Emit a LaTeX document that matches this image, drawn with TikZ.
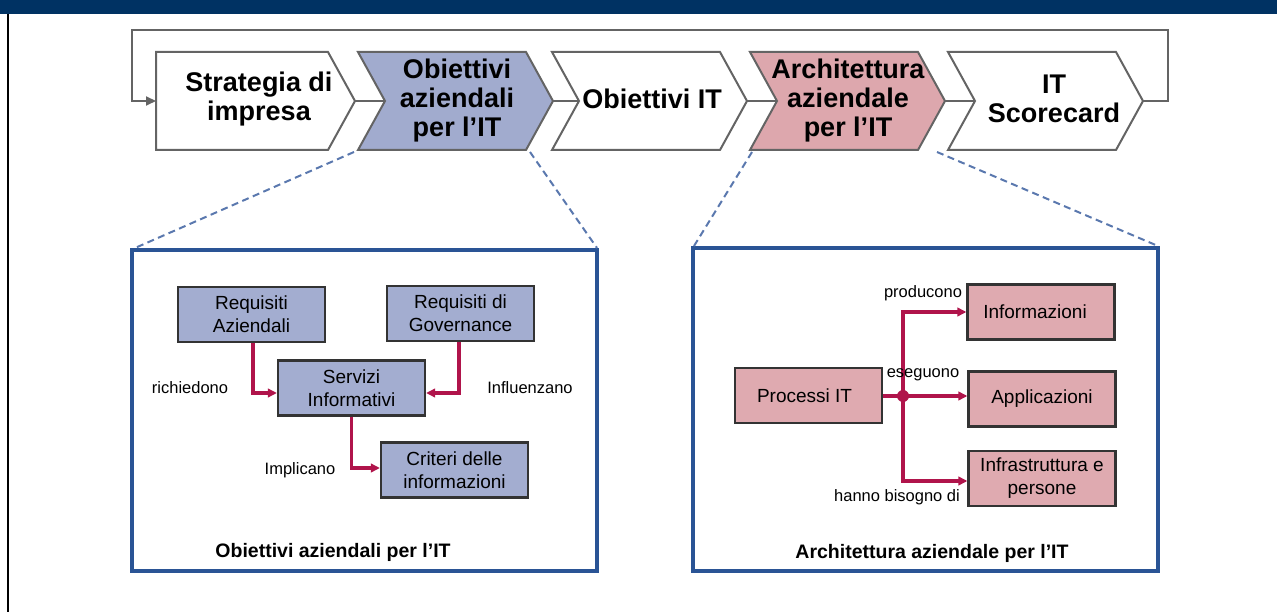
\documentclass[tikz,border=0pt]{standalone}
\usepackage{fontspec}
\setmainfont{Liberation Sans}
\usetikzlibrary{arrows.meta}
\definecolor{bandblue}{HTML}{003263}
\definecolor{chevblue}{HTML}{A1ABCE}
\definecolor{chevpink}{HTML}{DDA7AD}
\definecolor{boxblue}{HTML}{A3ADD0}
\definecolor{boxpink}{HTML}{DFAAB0}
\definecolor{crimson}{HTML}{B0144B}
\definecolor{frameblue}{HTML}{2A5495}
\definecolor{dashblue}{HTML}{5A78AE}
\definecolor{chevline}{HTML}{646464}
\definecolor{boxline}{HTML}{333333}
\begin{document}
\begin{tikzpicture}[x=1pt,y=-1pt,
  chevshape/.style={draw=chevline, line width=2pt, line join=miter},
  chevtext/.style={align=center, inner sep=0pt, font=\fontsize{27}{29}\selectfont\bfseries},
  linkline/.style={draw=chevline, line width=2pt},
  loopline/.style={draw=chevline, line width=2pt, -{Triangle[length=10pt,width=9pt]}},
  zoomline/.style={draw=dashblue, line width=2pt, dash pattern=on 7pt off 4.5pt},
  frame/.style={draw=frameblue, line width=3.2pt},
  innerbox/.style={draw=boxline, line width=2.2pt, minimum width=147pt, minimum height=55pt,
     align=center, inner sep=0pt, font=\fontsize{19}{23}\selectfont},
  bluebox/.style={innerbox, fill=boxblue},
  pinkbox/.style={innerbox, fill=boxpink},
  conn/.style={draw=crimson, line width=3.2pt, -{Triangle[length=9pt,width=8.5pt]}},
  plainconn/.style={draw=crimson, line width=3.2pt},
  lbl/.style={inner sep=0pt, font=\fontsize{16.5}{19}\selectfont},
  caption/.style={inner sep=0pt, font=\fontsize{19.5}{22}\selectfont\bfseries}
]
\useasboundingbox (0,0) rectangle (1277,612);
% top band and left rule
\fill[bandblue] (0,0) rectangle (1277,14);
\draw[black, line width=2.5pt] (8,14) -- (8,612);

% chevrons
\draw[chevshape, fill=white] (156,52) -- (328,52) -- (355,101) -- (328,150) -- (156,150) -- cycle;
\draw[chevshape, fill=chevblue] (358,52) -- (526,52) -- (553,101) -- (526,150) -- (358,150) -- (385,101) -- cycle;
\draw[chevshape, fill=white] (552,52) -- (720,52) -- (747,101) -- (720,150) -- (552,150) -- (579,101) -- cycle;
\draw[chevshape, fill=chevpink] (750,52) -- (918,52) -- (945,101) -- (918,150) -- (750,150) -- (777,101) -- cycle;
\draw[chevshape, fill=white] (948,52) -- (1116,52) -- (1143,101) -- (1116,150) -- (948,150) -- (975,101) -- cycle;

\coordinate (in1) at (156,101);
\coordinate (t1) at (355,101); \coordinate (n2) at (385,101);
\coordinate (t2) at (553,101); \coordinate (n3) at (579,101);
\coordinate (t3) at (747,101); \coordinate (n4) at (777,101);
\coordinate (t4) at (945,101); \coordinate (n5) at (975,101);
\coordinate (t5) at (1143,101);

\node[chevtext] (c1) at (259,99) {Strategia di\\impresa};
\node[chevtext] (c2) at (457,101) {Obiettivi\\aziendali\\per l’IT};
\node[chevtext] (c3) at (652,99) {Obiettivi IT};
\node[chevtext] (c4) at (848,101) {Architettura\\aziendale\\per l’IT};
\node[chevtext] (c5) at (1054,99) {IT\\Scorecard};

\draw[linkline] (t1) -- (n2);
\draw[linkline] (t2) -- (n3);
\draw[linkline] (t3) -- (n4);
\draw[linkline] (t4) -- (n5);
\draw[loopline] (t5) -- (1168,101) -- (1168,30) -- (132,30) -- (132,101) -- (in1);

% frames
\coordinate (lf1) at (132,250); \coordinate (lf2) at (597,571);
\coordinate (rf1) at (693,248); \coordinate (rf2) at (1158,571);
\draw[frame] (lf1) rectangle (lf2);
\draw[frame] (rf1) rectangle (rf2);

% zoom dashed lines
\coordinate (zb1) at (354,152); \coordinate (zb2) at (530,152);
\coordinate (zp1) at (752,152); \coordinate (zp2) at (937,152);
\draw[zoomline] (zb1) -- (135,248);
\draw[zoomline] (zb2) -- (597,248);
\draw[zoomline] (zp1) -- (694,246);
\draw[zoomline] (zp2) -- (1158,246);

% left diagram
\node[bluebox] (ra) at (251.5,314.5) {Requisiti\\Aziendali};
\node[bluebox] (rg) at (460.5,313.5) {Requisiti di\\Governance};
\node[bluebox] (si) at (351.5,388) {Servizi\\Informativi};
\node[bluebox] (cr) at (454.5,470) {Criteri delle\\informazioni};
\draw[conn] ([xshift=1.5pt]ra.south) |- ([yshift=-5pt]si.west);
\draw[conn] ([xshift=-1.5pt]rg.south) |- ([yshift=-5pt]si.east);
\draw[conn] (si.south) |- ([yshift=2pt]cr.west);
\node[lbl] (l1) at (190,388) {richiedono};
\node[lbl] (l2) at (530,388) {Influenzano};
\node[lbl] (l3) at (300,470) {Implicano};
\node[caption] (cap1) at (333,552) {Obiettivi aziendali per l’IT};

% right diagram
\node[pinkbox] (pi) at (808.5,395.5) {\hspace*{-8pt}Processi IT};
\node[pinkbox] (inf) at (1041,312) {Informazioni\hspace*{12pt}};
\node[pinkbox] (ap) at (1042,399) {Applicazioni};
\node[pinkbox] (ip) at (1042,478.5) {Infrastruttura e\\persone};
\coordinate (j) at (903,396);
\draw[plainconn] (pi.east |- j) -- (j);
\draw[conn] (j) -- (j -| ap.west);
\draw[conn] (j) |- (inf.west);
\draw[conn] (j) |- ([yshift=-2.5pt]ip.west);
\fill[crimson] (j) circle (6pt);
\node[lbl] (l4) at (923,293) {producono};
\node[lbl] (l5) at (923,375) {eseguono};
\node[lbl] (l6) at (897,497) {hanno bisogno di};
\node[caption] (cap2) at (932,553) {Architettura aziendale per l’IT};
\end{tikzpicture}
\end{document}
